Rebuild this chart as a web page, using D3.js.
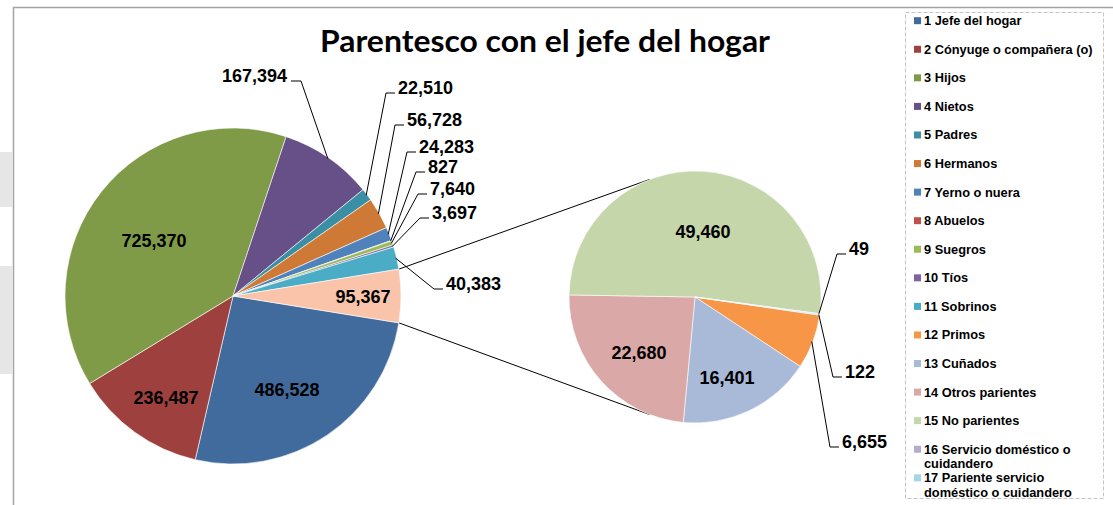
<!DOCTYPE html>
<html>
<head>
<meta charset="utf-8">
<script src="https://cdn.jsdelivr.net/npm/d3@7"></script>
<style>
  body { margin: 0; background: #fff; }
  text { font-family: "Liberation Sans", Arial, sans-serif; font-weight: bold; }
</style>
</head>
<body>
<div id="chart"></div>
<script>
const categories = [
  "1 Jefe del hogar", "2 Cónyuge o compañera (o)", "3 Hijos", "4 Nietos", "5 Padres",
  "6 Hermanos", "7 Yerno o nuera", "8 Abuelos", "9 Suegros", "10 Tíos", "11 Sobrinos",
  "12 Primos", "13 Cuñados", "14 Otros parientes", "15 No parientes",
  "16 Servicio doméstico o cuidandero", "17 Pariente servicio doméstico o cuidandero"
];
const values = [
  486528, 236487, 725370, 167394, 22510,
  56728, 24283, 827, 7640, 3697, 40383,
  6655, 16401, 22680, 49460,
  49, 122
];
const colors = [
  "#416b9c", "#9e413e", "#7f9b48", "#674f88", "#3a8fa4",
  "#ce7a36", "#4f81bd", "#c0504d", "#9bbb59", "#8064a2", "#4bacc6",
  "#f79646", "#a9b9d8", "#d9a8a7", "#c4d6aa",
  "#b7abcb", "#a6d5e2"
];
const otherColor = "#f9c4aa";
const mainCount = 11; // first 11 categories go in the big pie, the rest in the small one

const width = 1113, height = 505;
const mainPie = { cx: 233, cy: 296, r: 168 };
const subPie = { cx: 695, cy: 297, r: 126 };
const deg = Math.PI / 180;

// label placement (text left/right x, middle y)
const mainLabelPos = [
  { x: 287, y: 390, inside: true }, { x: 166, y: 398, inside: true }, { x: 154, y: 241, inside: true },
  { x: 287, y: 76, side: "left" }, { x: 398, y: 88 }, { x: 407, y: 120 }, { x: 419, y: 147 },
  { x: 428, y: 167 }, { x: 430, y: 189 }, { x: 432, y: 213 }, { x: 446, y: 284 },
  { x: 363, y: 297, inside: true }
];
const subLabelPos = [
  { x: 842, y: 442 }, { x: 727, y: 378, inside: true }, { x: 639, y: 353, inside: true },
  { x: 703, y: 232, inside: true }, { x: 849, y: 249 }, { x: 845, y: 372 }
];

const fmt = d3.format(",");

const svg = d3.select("#chart").append("svg")
  .attr("width", width)
  .attr("height", height);

svg.append("rect").attr("width", width).attr("height", height).attr("fill", "#fff");

// grey smudges left of the chart frame
svg.append("rect").attr("x", 0).attr("y", 152).attr("width", 12).attr("height", 55).attr("fill", "#e6e6e6");
svg.append("rect").attr("x", 0).attr("y", 266).attr("width", 12).attr("height", 108).attr("fill", "#e6e6e6");

// chart frame
svg.append("path")
  .attr("d", "M13.5,505V7.5H1113")
  .attr("fill", "none")
  .attr("stroke", "#a3a3a3")
  .attr("stroke-width", 1.5);

// Title
svg.append("text")
  .attr("x", 320)
  .attr("y", 52)
  .attr("textLength", 450)
  .attr("lengthAdjust", "spacingAndGlyphs")
  .style("font-family", "Lato, 'Open Sans', sans-serif")
  .style("font-size", "31px")
  .text("Parentesco con el jefe del hogar");

// Build data
const mainData = categories.slice(0, mainCount).map((c, i) => ({ name: c, value: values[i], color: colors[i] }));
const subData = categories.slice(mainCount).map((c, i) => ({ name: c, value: values[mainCount + i], color: colors[mainCount + i] }));
const otherValue = d3.sum(subData, d => d.value);
mainData.push({ name: "Otros", value: otherValue, color: otherColor });

// the "other" slice is centred on 3 o'clock
const total = d3.sum(mainData, d => d.value);
const otherSpan = otherValue / total * 2 * Math.PI;
const mainStart = Math.PI / 2 + otherSpan / 2;
const subStart = 98.3 * deg;

const mainArcs = d3.pie().sort(null).value(d => d.value)
  .startAngle(mainStart).endAngle(mainStart + 2 * Math.PI)(mainData);
const subArcs = d3.pie().sort(null).value(d => d.value)
  .startAngle(subStart).endAngle(subStart + 2 * Math.PI)(subData);

const polar = (p, a, r) => [p.cx + r * Math.sin(a), p.cy - r * Math.cos(a)];

// connector lines between pies
const otherArc = mainArcs[mainArcs.length - 1];
const linkOffset = 69 * deg;
const links = [
  [polar(mainPie, otherArc.startAngle, mainPie.r), polar(subPie, 1.5 * Math.PI + linkOffset, subPie.r)],
  [polar(mainPie, otherArc.endAngle, mainPie.r), polar(subPie, 1.5 * Math.PI - linkOffset, subPie.r)]
];

function drawPie(p, arcs, labelPos) {
  const arc = d3.arc().innerRadius(0).outerRadius(p.r);
  const g = svg.append("g").attr("transform", `translate(${p.cx},${p.cy})`);
  g.selectAll("path")
    .data(arcs)
    .join("path")
    .attr("d", arc)
    .attr("fill", d => d.data.color)
    .attr("stroke", "#fff")
    .attr("stroke-width", 0.6);

  arcs.forEach((d, i) => {
    const lp = labelPos[i];
    if (lp.inside) {
      svg.append("text")
        .attr("x", lp.x).attr("y", lp.y).attr("dy", "0.35em")
        .attr("text-anchor", "middle")
        .style("font-size", "18px")
        .text(fmt(d.data.value));
      return;
    }
    const mid = (d.startAngle + d.endAngle) / 2;
    const start = polar(p, mid, p.r - 1);
    const left = lp.side === "left";
    const ly = lp.y + 5;
    const elbowX = left ? lp.x + 14 : lp.x - 12;
    const stubX = left ? lp.x + 4 : lp.x - 3;
    svg.append("path")
      .attr("d", d3.line()([start, [elbowX, ly], [stubX, ly]]))
      .attr("fill", "none")
      .attr("stroke", "#000")
      .attr("stroke-width", 1);
    svg.append("text")
      .attr("x", lp.x).attr("y", lp.y).attr("dy", "0.35em")
      .attr("text-anchor", left ? "end" : "start")
      .style("font-size", "18px")
      .text(fmt(d.data.value));
  });
}

svg.selectAll(".link")
  .data(links)
  .join("path")
  .attr("class", "link")
  .attr("d", d => d3.line()(d))
  .attr("stroke", "#000")
  .attr("stroke-width", 1);

drawPie(mainPie, mainArcs, mainLabelPos);
drawPie(subPie, subArcs, subLabelPos);

// Legend
svg.append("rect")
  .attr("x", 905.5).attr("y", 12.5)
  .attr("width", 198).attr("height", 486)
  .attr("fill", "#fff")
  .attr("stroke", "#c4c4c4")
  .attr("stroke-dasharray", "4,2");

const legendTop = 20.7, legendStep = 28.57, legendMaxW = 174;
const legend = svg.append("g");
categories.forEach((c, i) => {
  const y = legendTop + i * legendStep;
  legend.append("rect")
    .attr("x", 914).attr("y", y - 3.5)
    .attr("width", 7).attr("height", 7)
    .attr("fill", colors[i]);
  const t = legend.append("text")
    .attr("x", 924).attr("y", y).attr("dy", "0.35em")
    .style("font-size", "12.8px")
    .style("fill", "#000");
  // wrap long names
  const words = c.split(" ");
  let line = [], tspan = t.append("tspan").attr("x", 924);
  words.forEach(w => {
    line.push(w);
    tspan.text(line.join(" "));
    if (tspan.node().getComputedTextLength() > legendMaxW && line.length > 1) {
      line.pop();
      tspan.text(line.join(" "));
      line = [w];
      tspan = t.append("tspan").attr("x", 924).attr("dy", "14.3px").text(w);
    }
  });
});
</script>
</body>
</html>
